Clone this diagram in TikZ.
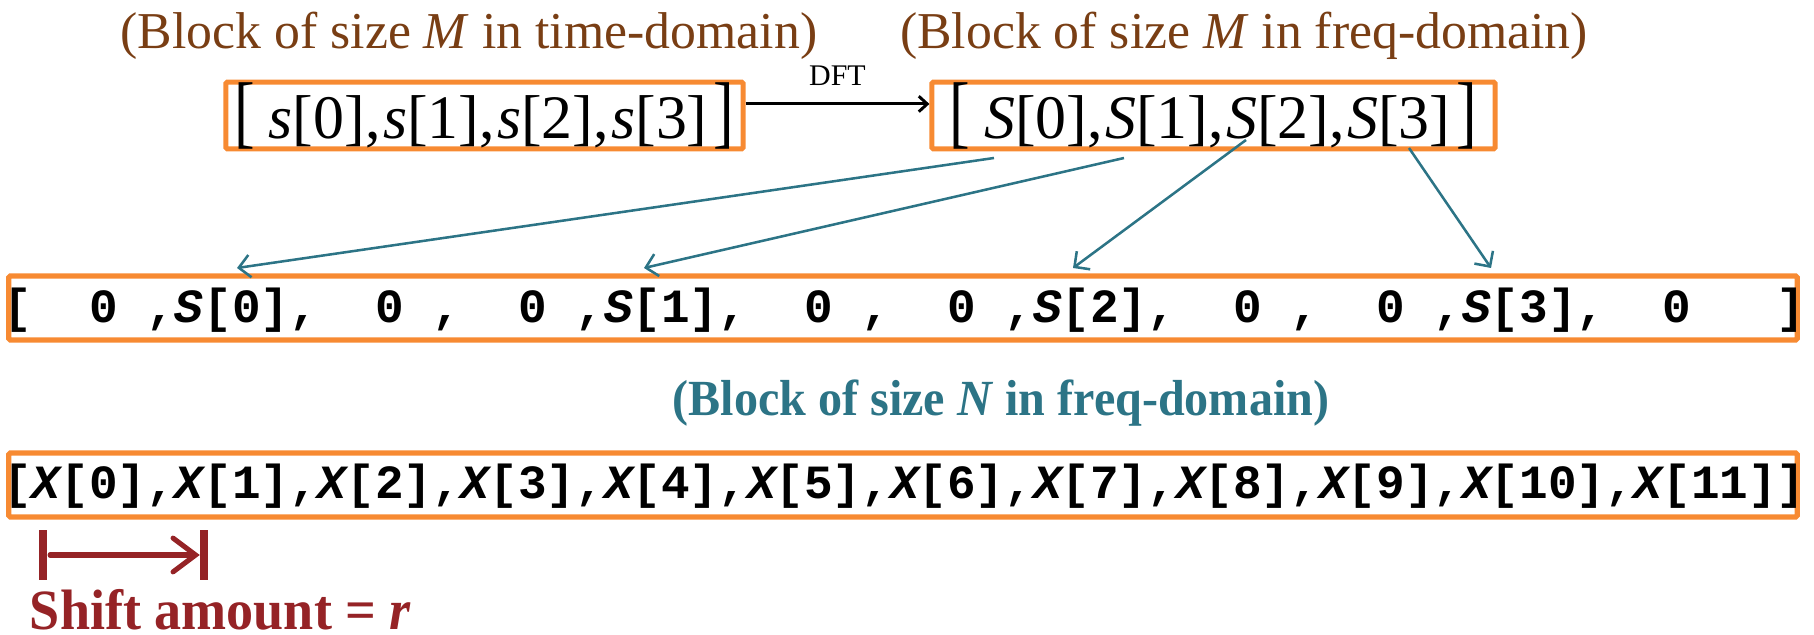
\documentclass[tikz,border=0pt]{standalone}
\usepackage{fontspec}
\usepackage{graphicx}
\setmainfont{Liberation Serif}
\setmonofont{Liberation Mono}
\newfontfamily\narrowserif[FakeStretch=0.95]{Liberation Serif}
\usetikzlibrary{arrows.meta,positioning,calc}
\definecolor{boxorange}{RGB}{247,138,50}
\definecolor{titlebrown}{RGB}{121,62,20}
\definecolor{mapteal}{RGB}{44,116,134}
\definecolor{shiftred}{RGB}{149,35,38}

\newcommand{\tallbr}[1]{\raisebox{0.0em}{\scalebox{1}[1.3]{#1}}}
\newcommand{\sv}[1]{{\itshape S}[#1]}
\newcommand{\xv}[1]{{\itshape X}[#1]}
\newcommand{\csep}{,\hspace{0.04em}}

\tikzset{
  blockbox/.style={draw=boxorange, line width=3.6pt, rounded corners=1pt, inner sep=0pt},
  blockmath/.style={font=\fontsize{44pt}{50pt}\selectfont},
  title/.style={text=titlebrown, font=\fontsize{36.8pt}{42pt}\selectfont, inner sep=0pt, anchor=base},
  seqtext/.style={font=\ttfamily\bfseries\fontsize{33.9pt}{40pt}\selectfont, inner sep=0pt, anchor=base west},
  map/.style={draw=mapteal, line width=1.8pt, -{Straight Barb[length=8pt,width=16pt]}},
}

\begin{document}
\begin{tikzpicture}[x=0.025cm, y=-0.025cm]
    \useasboundingbox (0,0) rectangle (1814,635);

    % Blocks of size M
    \node[title] (ttitle) at (469,49) {(Block of size \textit{M} in time-domain)};
    \node[title] (ftitle) at (1244,49) {(Block of size \textit{M} in freq-domain)};
    \node[blockbox, blockmath, minimum width=12.925cm, minimum height=1.625cm] (tblock) at (484.5,115.5)
        {\tallbr{[}\hspace{0.22em}\textit{s}[0]\csep\textit{s}[1]\csep\textit{s}[2]\csep\textit{s}[3]\hspace{0.1em}\tallbr{]}};
    \node[blockbox, blockmath, minimum width=14.075cm, minimum height=1.625cm] (fblock) at (1213.5,115.5)
        {\tallbr{[}\hspace{0.22em}\textit{S}[0]\csep\textit{S}[1]\csep\textit{S}[2]\csep\textit{S}[3]\hspace{0.1em}\tallbr{]}};
    \draw[line width=2.1pt, -{Straight Barb[length=6pt,width=11pt]}] ([yshift=8.2pt]tblock.east) --
        node[anchor=base, yshift=13pt, font=\fontsize{21.3pt}{24pt}\selectfont] (dft) {DFT} ([yshift=8.2pt]fblock.west);

    % Zero-padded block
    \node[blockbox, minimum width=44.7cm, minimum height=1.6cm] (padded) at (903,308) {};
    \node[seqtext] (paddedtxt) at (3,323)
        {[~~0~,\sv{0},~~0~,~~0~,\sv{1},~~0~,~~0~,\sv{2},~~0~,~~0~,\sv{3},~~0~~~]};

    % Mapping arrows
    \foreach \k/\sx/\sy/\tx in {0/994/158/237, 1/1124/158/644, 2/1246/140/1073, 3/1409/148/1491} {
        \coordinate (src\k) at (\sx,\sy);
        \coordinate (dst\k) at (\tx,268);
        \draw[map] (src\k) -- (dst\k);
    }

    \node[anchor=base, text=mapteal, font=\narrowserif\bfseries\fontsize{36pt}{42pt}\selectfont] (nlabel) at (1001,415)
        {(Block of size \textit{N} in freq-domain)};

    % Output block
    \node[blockbox, minimum width=44.7cm, minimum height=1.6cm] (outblock) at (903,485) {};
    \node[seqtext] (outtxt) at (3,498)
        {[\xv{0},\xv{1},\xv{2},\xv{3},\xv{4},\xv{5},\xv{6},\xv{7},\xv{8},\xv{9},\xv{10},\xv{11}]};

    % Shift
    \coordinate (shiftstart) at (43,555);
    \coordinate (shiftend) at (204,555);
    \draw[shiftred, line width=5pt] (shiftstart) ++(0,-25) -- ++(0,50);
    \draw[shiftred, line width=5pt] (shiftend) ++(0,-25) -- ++(0,50);
    \draw[shiftred, line width=3.6pt, line cap=round, shorten <=5pt, shorten >=3pt,
        -{Straight Barb[length=16pt,width=24pt,line cap=round]}] (shiftstart) -- (shiftend);
    \node[anchor=base west, text=shiftred, font=\narrowserif\bfseries\fontsize{40.5pt}{46pt}\selectfont] (shiftlbl) at (25,629)
        {Shift amount = \textit{r}};
\end{tikzpicture}
\end{document}
